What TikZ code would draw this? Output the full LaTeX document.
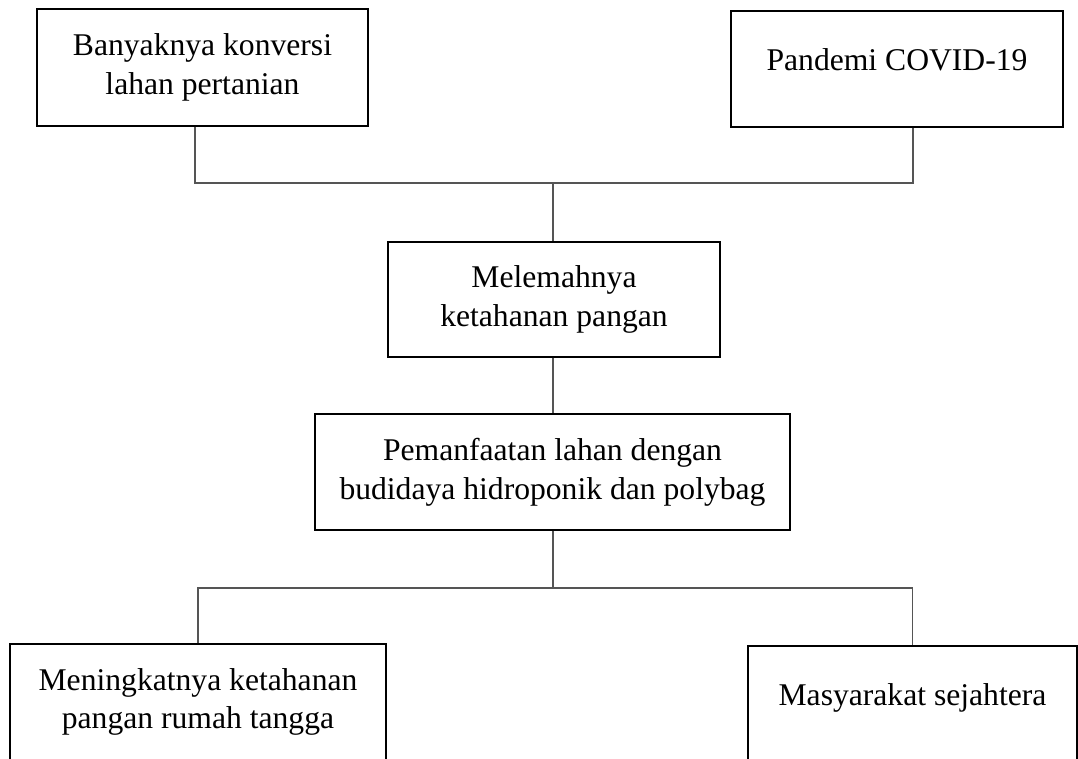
\documentclass[tikz,border=0pt]{standalone}
\usepackage{fontspec}
\setmainfont{Liberation Serif}
\usetikzlibrary{positioning, calc}
\definecolor{linkgray}{RGB}{85,85,85}

\begin{document}
\begin{tikzpicture}[x=0.02cm, y=-0.02cm,
    box/.style={draw=black, line width=0.85pt, inner sep=0pt, align=center,
      font={\fontsize{18pt}{22pt}\selectfont}, minimum height=2.32cm},
    upper/.style={text height=12.3pt, text depth=11pt},
    link/.style={draw=linkgray, line width=0.6pt}]
  \useasboundingbox (0,0) rectangle (1078,758);
  \clip (0,0) rectangle (1078,758);
  % causes
  \node[box, minimum width=6.62cm, minimum height=2.34cm] (conversion) at (202.5,67.5) {Banyaknya konversi\\lahan pertanian};
  \node[box, upper, minimum width=6.64cm] (pandemic) at (897,69) {Pandemi COVID-19};
  % problem and solution
  \node[box, minimum width=6.64cm, minimum height=2.3cm] (weakening) at (554,299.5) {Melemahnya\\ketahanan pangan};
  \node[box, minimum width=9.5cm] (utilization) at (552.5,472) {Pemanfaatan lahan dengan\\budidaya hidroponik dan polybag};
  % outcomes
  \node[box, minimum width=7.52cm] (security) at (198,702) {Meningkatnya ketahanan\\pangan rumah tangga};
  \node[box, upper, minimum width=6.58cm] (welfare) at (912.5,704) {Masyarakat sejahtera};
  % connectors
  \coordinate (topjoin) at (553,183);
  \coordinate (botjoin) at (553,588);
  \draw[link] ([xshift=-0.15cm]conversion.south) |- (topjoin) -| ([xshift=0.32cm]pandemic.south);
  \draw[link] (topjoin) -- (weakening.north -| topjoin);
  \draw[link] (weakening.south -| topjoin) -- (utilization.north -| topjoin);
  \draw[link] (utilization.south -| botjoin) -- (botjoin);
  \draw[link] (security.north) |- (botjoin) -| (welfare.north);
\end{tikzpicture}
\end{document}
